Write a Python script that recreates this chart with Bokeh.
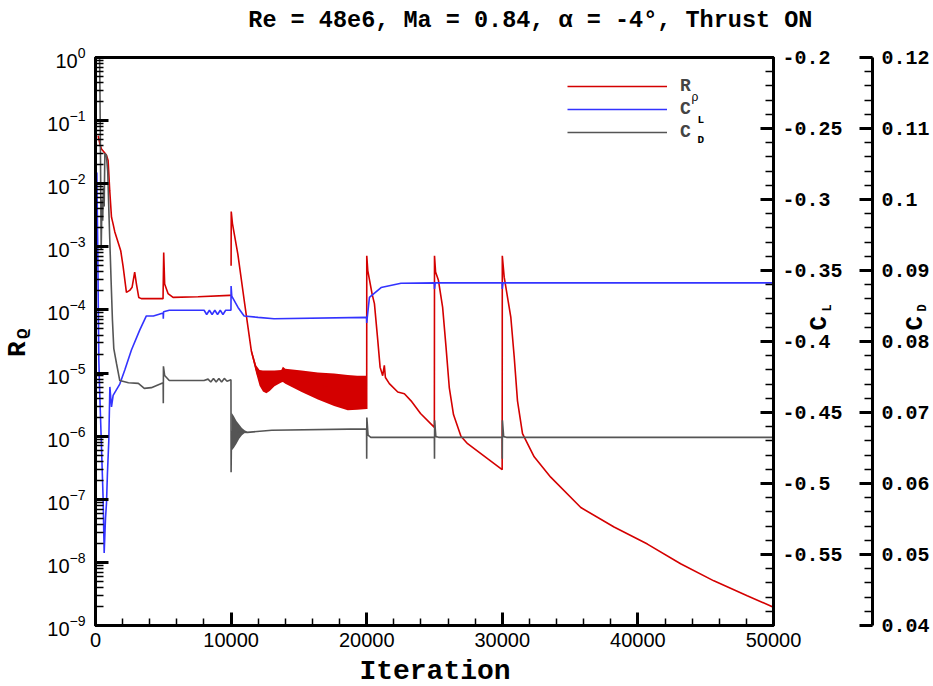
from bokeh.plotting import figure
from bokeh.models import (Range1d, LinearScale, LinearAxis, SingleIntervalTicker, LogTicker,
                          CustomJSTickFormatter, Label, Legend, LegendItem)
from bokeh.embed import file_html
from bokeh.resources import INLINE

nan = float("nan")

# ---------------- data ----------------
# density residual R_rho (log axis); NaN = break between runs
rho_iter = [200, 320, 440, 640, 810, 930, 1050, 1180, 1300, 1420, 1670, 1860, 2040, 2280, 2520,
            2700, 2890, 3020, 3190, 3380, 4980, 5030, 5100, 5350, 5720, 7560, 9890, 9990, 9995,
            10000, 10010, 10100, 10500, 11000, 11500, 12000, 13000, 14000, 16000, 18000, 19990,
            20000, 20005, 20080, 20400, 20570, 20820, 20990, 21180, 21300, 21380, 21670, 22290,
            22780, 23270, 23970, 24990,
            25000, 25080, 25290, 25600, 25850, 26090, 26400, 26950, 27440, 28910, 29990,
            30000, 30140, 30630, 30880, 31120, 31490, 32350, 33570, 35790, 38240, 40700, 43150,
            45600, 48060, 50000]
rho_val = [5.75e-2, 4.27e-2, 3.55e-2, 3.16e-2, 2.82e-2, 2.34e-2, 7.76e-3, 2.95e-3, 2.29e-3, 1.74e-3,
           1.17e-3, 8.7e-4, 4.8e-4, 1.9e-4, 2.04e-4, 2.29e-4, 3.98e-4, 2.57e-4, 1.58e-4, 1.51e-4,
           1.51e-4, 8.1e-4, 2.57e-4, 1.82e-4, 1.58e-4, 1.62e-4, 1.70e-4, 1.70e-4, nan,
           5.0e-4, 3.63e-3, 2.34e-3, 7.6e-4, 1.26e-4, 2.19e-5, 8.9e-6, 7.9e-6, 8.9e-6, 6.6e-6,
           5.4e-6, 5.0e-6,
           2.69e-6, 7.2e-4, 4.2e-4, 1.78e-4, 1.26e-4, 3.24e-5, 1.23e-5, 9.1e-6, 1.32e-5, 8.5e-6,
           6.8e-6, 5.0e-6, 4.7e-6, 3.63e-6, 2.29e-6, 1.38e-6,
           7.2e-4, 4.0e-4, 2.95e-4, 1.10e-4, 2.57e-5, 5.9e-6, 2.2e-6, 1.0e-6, 7.6e-7, 4.4e-7, 2.95e-7,
           7.2e-4, 3.31e-4, 7.6e-5, 1.78e-5, 3.63e-6, 1.10e-6, 4.7e-7, 2.24e-7, 7.4e-8, 3.63e-8,
           1.95e-8, 9.5e-9, 5.1e-9, 2.95e-9, 1.95e-9]

# oscillation envelope of R_rho between the 10000 and 20000 restarts
rho_band_iter = [11500, 11850, 12100, 12350, 12600, 12850, 13200, 13700, 13820, 14000, 15200,
                 16400, 17600, 18600, 19300, 20000]
rho_band_hi = [2.40e-5, 1.32e-5, 1.12e-5, 1.10e-5, 1.10e-5, 1.10e-5, 1.10e-5, 1.12e-5, 1.26e-5,
               1.17e-5, 1.10e-5, 1.02e-5, 9.8e-6, 9.3e-6, 9.1e-6, 9.1e-6]
rho_band_lo = [2.0e-5, 9.8e-6, 6.3e-6, 5.1e-6, 4.8e-6, 5.2e-6, 6.2e-6, 7.1e-6, 7.2e-6, 6.8e-6,
               5.0e-6, 3.8e-6, 3.0e-6, 2.57e-6, 2.63e-6, 2.69e-6]

# lift coefficient C_L
cl_iter = [100, 160, 245, 320, 440, 560, 640, 740, 810, 880, 980, 1060, 1180, 1300, 1420, 1790,
           2160, 2650, 3260, 3750, 4270, 4990, 5000, 5020, 5440, 8010, 8200, 8400, 8600, 8800,
           9000, 9200, 9400, 9600, 9850, 9990, 10000, 10050, 10510, 10960, 11990, 13160, 19990,
           20000, 20200, 21060, 22530, 24990, 25000, 25050, 29990, 30000, 30050, 50000]
cl_val = [-0.281, -0.330, -0.413, -0.439, -0.474, -0.510, -0.549, -0.524, -0.514, -0.493, -0.470,
          -0.432, -0.446, -0.438, -0.436, -0.430, -0.420, -0.406, -0.392, -0.382, -0.382, -0.380,
          -0.384, -0.379, -0.378, -0.378, -0.381, -0.378, -0.381, -0.378, -0.381, -0.378, -0.381,
          -0.378, -0.378, -0.378, -0.361, -0.368, -0.376, -0.382, -0.383, -0.384, -0.383, -0.387,
          -0.369, -0.362, -0.359, -0.3587, -0.363, -0.3587, -0.3587, -0.363, -0.3587, -0.3587]

# drag coefficient C_D
cd_iter = [200, 330, 420, 480, 530, 580, 640, 690, 800, 900, 1000, 1150, 1250, 1350, 1550, 1790,
           2430, 3160, 3600, 4120, 4990, 5000, 5010, 5100, 5440, 8000, 8300, 8500, 8700, 8900,
           9100, 9300, 9500, 9700, 9990, 10000, 10030, 11200, 13000, 19990, 20000, 20010, 20100,
           20300, 24990, 25000, 25010, 25100, 25300, 29990, 30000, 30010, 30100, 30300, 50000]
cd_val = [0.140, 0.115, 0.093, 0.100, 0.097, 0.1017, 0.099, 0.1065, 0.1062, 0.104, 0.0975, 0.0886,
          0.0830, 0.0790, 0.0769, 0.0745, 0.0742, 0.0741, 0.0734, 0.0735, 0.0742, 0.0713, 0.0765,
          0.0752, 0.0745, 0.0745, 0.0747, 0.0743, 0.0748, 0.0743, 0.0748, 0.0743, 0.0748, 0.0744,
          0.0746, 0.0616, 0.0673, 0.0672, 0.0675, 0.0677, 0.0635, 0.0693, 0.0668, 0.0665, 0.0665,
          0.0635, 0.0689, 0.0666, 0.0665, 0.0665, 0.0635, 0.0689, 0.0666, 0.0665, 0.0665]

# oscillation envelope of C_D right after the 10000 restart
cd_band_iter = [10030, 10200, 10400, 10600, 10800, 11000, 11200]
cd_band_hi = [0.0700, 0.0695, 0.0688, 0.0683, 0.0678, 0.0675, 0.0673]
cd_band_lo = [0.0646, 0.0650, 0.0656, 0.0663, 0.0668, 0.0671, 0.0672]

title_text = "Re = 48e6, Ma = 0.84, \u03b1 = -4\u00b0, Thrust ON"

# ---------------- styling ----------------
MONO = "Liberation Mono"
SANS = "Liberation Sans"
RED, BLUE, GRAY = "#d40000", "#3333ff", "#555555"

X_MAX = 50000
p = figure(width=933, height=686, x_range=Range1d(0, X_MAX), y_range=Range1d(1e-9, 1),
           y_axis_type="log", output_backend="svg", toolbar_location=None,
           min_border_left=94, min_border_right=160, min_border_top=57, min_border_bottom=61)
p.extra_y_ranges = {"cl": Range1d(-0.6, -0.2), "cd": Range1d(0.04, 0.12)}
p.extra_y_scales = {"cl": LinearScale(), "cd": LinearScale()}

p.xgrid.grid_line_color = None
p.ygrid.grid_line_color = None
p.outline_line_color = "black"
p.outline_line_width = 3
p.background_fill_color = "white"
p.border_fill_color = "white"
p.title.visible = False

def style_axis(ax, font, standoff, minor_in):
    ax.axis_line_width = 3
    ax.major_tick_in = 13
    ax.major_tick_out = 0
    ax.minor_tick_in = minor_in
    ax.minor_tick_out = 0
    ax.major_tick_line_width = 3
    ax.minor_tick_line_width = 1.5
    ax.major_label_text_font = font
    ax.major_label_text_font_size = "20px"
    ax.major_label_standoff = standoff
    ax.major_label_text_color = "black"

xa = p.xaxis[0]
xa.ticker = SingleIntervalTicker(interval=10000, num_minor_ticks=5)
style_axis(xa, SANS, 7, 7)

ya = p.yaxis[0]
ya.ticker = LogTicker(desired_num_ticks=10, num_minor_ticks=10)
style_axis(ya, SANS, 10, 8)
ya.axis_label = "R\u1d68"
ya.axis_label_text_font = MONO
ya.axis_label_text_font_style = "bold"
ya.axis_label_text_font_size = "26px"
ya.axis_label_text_color = "black"
ya.axis_label_standoff = 11

ax_cl = LinearAxis(y_range_name="cl", ticker=SingleIntervalTicker(interval=0.05, num_minor_ticks=5),
                   formatter=CustomJSTickFormatter(code="return Number(tick.toFixed(4)).toString();"),
                   axis_label="C", axis_label_text_alpha=0,
                   axis_label_text_font_size="12px", axis_label_standoff=10)
style_axis(ax_cl, MONO, 9, 8)
ax_cl.major_label_text_font_style = "bold"
ax_cd = LinearAxis(y_range_name="cd", ticker=SingleIntervalTicker(interval=0.01, num_minor_ticks=5),
                   formatter=CustomJSTickFormatter(code="return Number(tick.toFixed(4)).toString();"))
style_axis(ax_cd, MONO, 9, 8)
ax_cd.major_label_text_font_style = "bold"
p.add_layout(ax_cl, "right")
p.add_layout(ax_cd, "right")

# ---------------- series ----------------
p.varea(x=rho_band_iter, y1=rho_band_lo, y2=rho_band_hi, fill_color=RED)
r_rho = p.line(rho_iter, rho_val, line_color=RED, line_width=1.6)
r_cl = p.line(cl_iter, cl_val, line_color=BLUE, line_width=1.6, y_range_name="cl")
p.varea(x=cd_band_iter, y1=cd_band_lo, y2=cd_band_hi, fill_color=GRAY, y_range_name="cd")
r_cd = p.line(cd_iter, cd_val, line_color=GRAY, line_width=1.6, y_range_name="cd")

# ---------------- legend ----------------
legend = Legend(items=[LegendItem(label="R", renderers=[r_rho]),
                       LegendItem(label="C", renderers=[r_cl]),
                       LegendItem(label="C", renderers=[r_cd])],
                location=(472, 482), glyph_width=100, glyph_height=22, label_height=22,
                label_standoff=13, spacing=1, padding=0, margin=0,
                label_text_font=MONO, label_text_font_style="bold", label_text_font_size="18px",
                border_line_alpha=0, background_fill_alpha=0)
p.add_layout(legend)

# ---------------- texts placed at reference-pixel positions ----------------
FX0, FX1, FY0, FY1 = 94, 773, 57, 625
def xd(px):
    return (px - FX0) / (FX1 - FX0) * X_MAX
def yd(py):
    return 10 ** (-(py - FY0) / (FY1 - FY0) * 9)

def lab(text, px, py, size, angle=0.0, align="left", baseline="alphabetic", font=MONO,
        bold=True, line_height=1.2, place=None):
    lb = Label(x=xd(px), y=yd(py), text=text, angle=angle, angle_units="deg",
               text_align=align, text_baseline=baseline, text_font=font,
               text_font_style="bold" if bold else "normal", text_line_height=line_height,
               text_font_size=size, text_color="black")
    if place is None:
        p.add_layout(lb)
    else:
        p.add_layout(lb, place)

# texts outside the frame live in side panels so that they are not clipped to the frame
lab(title_text, 529.5, 20, "23.5px", align="center", baseline="middle", place="above")
lab("C\nC", 806, 330, "24px", 90, baseline="top", line_height=96 / (24 * 1.134), place="above")
lab("L\nD", 821, 311, "12px", 90, baseline="top", line_height=92 / (12 * 1.134), place="above")
lab("Iteration", 434, 671, "28px", align="center", baseline="middle", place="below")

# legend subscripts (inside the frame)
lab("\u03c1", 691, 96, "12px", font=SANS, bold=False)
lab("L", 697, 119, "11px")
lab("D", 697, 139, "11px")

open("out.html", "w").write(file_html(p, INLINE))
